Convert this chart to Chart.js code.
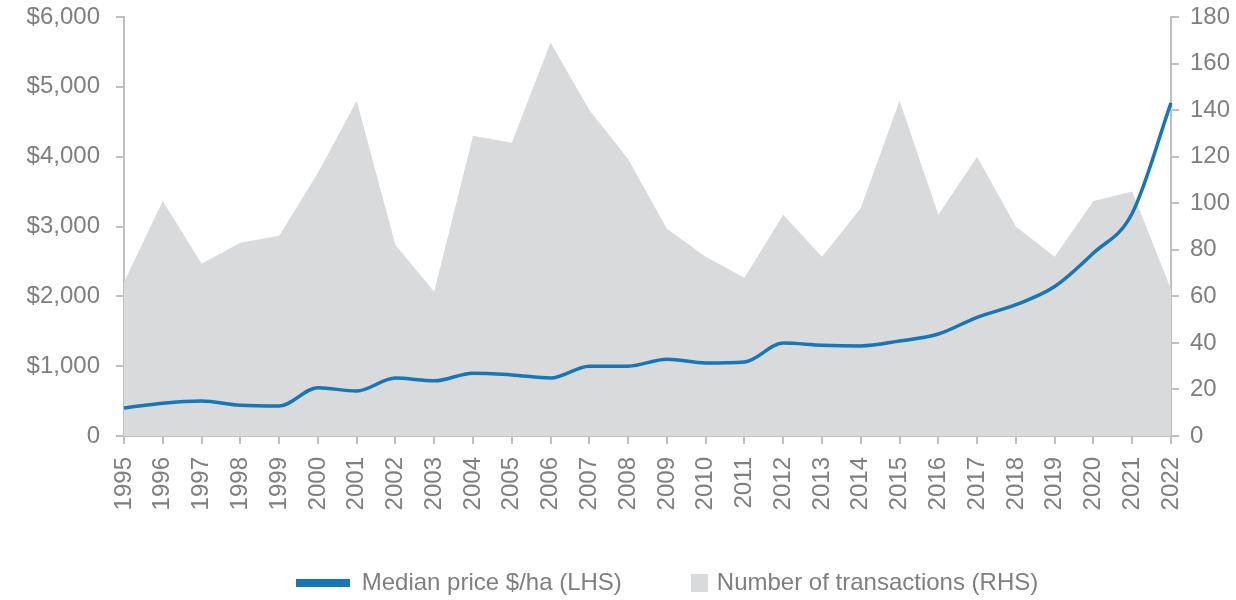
<!DOCTYPE html>
<html>
<head>
<meta charset="utf-8">
<script src="https://cdn.jsdelivr.net/npm/chart.js@4/dist/chart.umd.min.js"></script>
<style>
  html, body { margin: 0; padding: 0; background: #ffffff; }
  #wrap { width: 1236px; height: 600px; position: relative; }
</style>
</head>
<body>
<div id="wrap"><canvas id="c" width="1236" height="600"></canvas></div>
<script>
const years = ['1995','1996','1997','1998','1999','2000','2001','2002','2003','2004','2005','2006','2007','2008','2009','2010','2011','2012','2013','2014','2015','2016','2017','2018','2019','2020','2021','2022'];
const medianPrice = [400, 470, 500, 440, 430, 690, 645, 830, 790, 900, 875, 830, 1000, 1000, 1100, 1045, 1060, 1330, 1300, 1290, 1360, 1460, 1700, 1880, 2140, 2620, 3190, 4770];
const transactions = [66, 101, 74, 83, 86, 113, 144, 82, 62, 129, 126, 169, 140, 119, 89, 77, 68, 95, 77, 98, 144, 95, 120, 90, 77, 101, 105, 63];
const leftTicks = [0, 1000, 2000, 3000, 4000, 5000, 6000];
const rightTicks = [0, 20, 40, 60, 80, 100, 120, 140, 160, 180];
const seriesNames = ['Median price $/ha (LHS)', 'Number of transactions (RHS)'];

const BLUE = '#1776b6';
const GREY = '#d9dadc';
const AXIS = '#bfbfbf';
const TXT = '#7f7f7f';
const FONT = "'Liberation Sans', Arial, sans-serif";

function markerCanvas(kind) {
  const c = document.createElement('canvas');
  if (kind === 'line') {
    c.width = 54; c.height = 8;
    const x = c.getContext('2d');
    x.fillStyle = BLUE; x.fillRect(0, 0, 54, 8);
  } else {
    c.width = 60; c.height = 18;
    const x = c.getContext('2d');
    x.fillStyle = GREY; x.fillRect(43, 0, 17, 18);
  }
  return c;
}
const markers = [markerCanvas('line'), markerCanvas('rect')];

function noPad(s) { s.paddingTop = 0; s.paddingBottom = 0; }

new Chart(document.getElementById('c'), {
  type: 'line',
  data: {
    labels: years,
    datasets: [
      {
        label: seriesNames[0],
        data: medianPrice,
        yAxisID: 'y',
        borderColor: BLUE,
        backgroundColor: BLUE,
        borderWidth: 3.5,
        pointRadius: 0,
        cubicInterpolationMode: 'monotone',
        fill: false,
        order: 0
      },
      {
        label: seriesNames[1],
        data: transactions,
        yAxisID: 'y1',
        borderWidth: 0,
        borderColor: GREY,
        backgroundColor: GREY,
        pointRadius: 0,
        tension: 0,
        fill: 'origin',
        order: 1
      }
    ]
  },
  options: {
    responsive: false,
    animation: false,
    events: [],
    layout: { padding: { top: 17, left: 25, right: -73, bottom: -5 } },
    plugins: {
      tooltip: { enabled: false },
      legend: {
        position: 'bottom',
        labels: {
          usePointStyle: true,
          pointStyleWidth: 54,
          padding: 29,
          color: TXT,
          font: { family: FONT, size: 24 },
          generateLabels: (chart) => chart.data.datasets.map((ds, i) => ({
            text: ds.label,
            fillStyle: ds.backgroundColor,
            strokeStyle: ds.borderColor,
            lineWidth: 0,
            pointStyle: markers[i],
            hidden: false,
            datasetIndex: i,
            fontColor: TXT
          }))
        }
      }
    },
    scales: {
      x: {
        type: 'category',
        offset: false,
        grid: { display: true, drawOnChartArea: false, drawTicks: true, tickLength: 8, color: AXIS, lineWidth: 2 },
        border: { display: true, color: AXIS, width: 2 },
        ticks: {
          autoSkip: false, minRotation: 90, maxRotation: 90, padding: 13,
          color: TXT, font: { family: FONT, size: 24 }
        },
        afterFit: (s) => { s.height = 106; }
      },
      y: {
        position: 'left',
        min: 0, max: 6000,
        afterBuildTicks: (s) => { s.ticks = leftTicks.map(v => ({ value: v })); },
        grid: { display: true, drawOnChartArea: false, drawTicks: true, tickLength: 8, color: AXIS, lineWidth: 2 },
        border: { display: true, color: AXIS, width: 2 },
        ticks: {
          padding: 16, color: TXT, font: { family: FONT, size: 24 },
          callback: (v) => v === 0 ? '0' : '$' + v.toLocaleString('en-US')
        },
        afterFit: (s) => { s.width = 99; noPad(s); }
      },
      y1: {
        position: 'right',
        min: 0, max: 180,
        afterBuildTicks: (s) => { s.ticks = rightTicks.map(v => ({ value: v })); },
        grid: { display: true, drawOnChartArea: false, drawTicks: true, tickLength: 8, color: AXIS, lineWidth: 2 },
        border: { display: true, color: AXIS, width: 2 },
        ticks: { padding: 11, color: TXT, font: { family: FONT, size: 24 } },
        afterFit: (s) => { s.width = 138; noPad(s); }
      }
    }
  }
});
</script>
</body>
</html>
